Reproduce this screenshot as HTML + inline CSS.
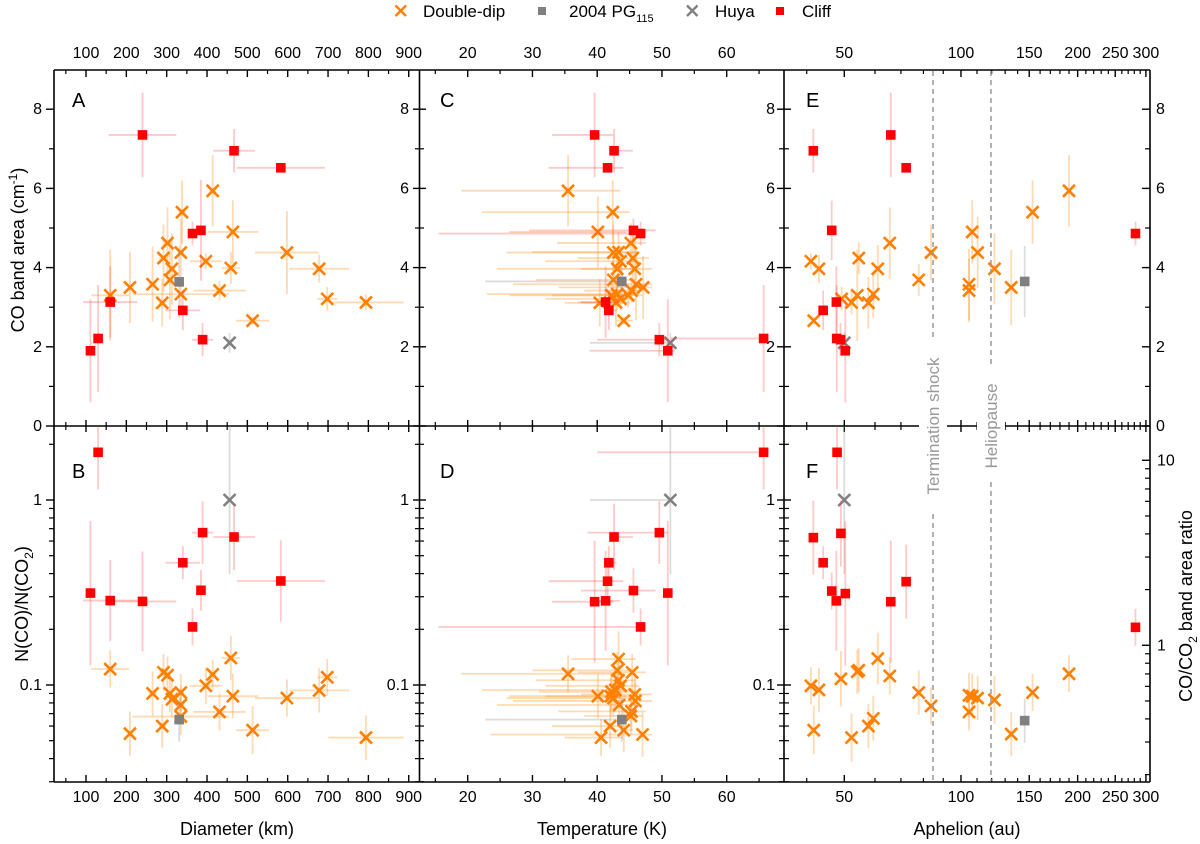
<!DOCTYPE html>
<html><head><meta charset="utf-8">
<style>
html,body{margin:0;padding:0;background:#fff;}
svg{display:block;font-family:"Liberation Sans",Arial,sans-serif;}
</style></head>
<body>
<svg id="chart" width="1200" height="844" viewBox="0 0 1200 844" xmlns="http://www.w3.org/2000/svg">
<defs>
<clipPath id="cA"><rect x="54" y="70" width="366" height="356"/></clipPath>
<clipPath id="cB"><rect x="54" y="426" width="366" height="356"/></clipPath>
<clipPath id="cC"><rect x="419" y="70" width="365" height="356"/></clipPath>
<clipPath id="cD"><rect x="419" y="426" width="365" height="356"/></clipPath>
<clipPath id="cE"><rect x="784" y="70" width="366" height="356"/></clipPath>
<clipPath id="cF"><rect x="784" y="426" width="366" height="356"/></clipPath>
</defs>
<g id="legend">
  <g>
    <path d="M395.5,5.5L406,16M406,5.5L395.5,16" stroke="#ff7f00" stroke-width="2.4"/>
    <text x="423" y="17" font-size="17">Double-dip</text>
  </g>
  <g>
    <rect x="538" y="7" width="8" height="8" fill="#808080"/>
    <text x="569" y="17" font-size="17">2004 PG<tspan font-size="11" dy="5">115</tspan></text>
  </g>
  <g>
    <path d="M687,5.5L697.5,16M697.5,5.5L687,16" stroke="#808080" stroke-width="2.4"/>
    <text x="715" y="17" font-size="17">Huya</text>
  </g>
  <g>
    <rect x="776" y="7" width="8" height="8" fill="#ff0000"/>
    <text x="802" y="17" font-size="17">Cliff</text>
  </g>
</g>
<g id="axes"></g>
<g id="marks"></g>
<g id="overlay"></g>
</svg>
<script>
// ---------- Panel A: CO band area vs diameter ----------
const aDoubleDipDiameter = [160,209,265,292,302,289,308,313,335,338,335,397,414,431,459,464,513,598,678,698,794];
const aDoubleDipCO = [3.30,3.50,3.58,4.24,4.62,3.11,3.69,3.97,4.38,5.40,3.33,4.16,5.94,3.42,3.99,4.90,2.66,4.38,3.97,3.21,3.12];
const aDoubleDipDiameterErr = [47,6,10,10,8,8,8,8,8,8,120,40,8,65,23,63,41,79,74,25,93];
const aDoubleDipCOErr = [1.15,0.9,0.95,0.85,0.9,0.6,1.0,0.9,0.85,0.8,0.4,0.2,0.9,0.25,0.4,0.8,0.1,1.05,0.35,0.3,0.2];
const aCliffDiameter = [111,130,160,240,364,385,340,389,467,583];
const aCliffCO = [1.90,2.21,3.13,7.35,4.86,4.94,2.92,2.18,6.95,6.52];
const aCliffDiameterErr = [6,8,67,84,8,8,43,26,52,109];
const aCliffCOErr = [1.3,1.35,0.9,1.07,0.3,1.27,0.5,0.42,0.55,0.1];
const aPGDiameter = [331]; const aPGCO = [3.64]; const aPGCOErr = [0.9];
const aHuyaDiameter = [456]; const aHuyaCO = [2.1]; const aHuyaCOErr = [0.25];

// ---------- Panel B: N(CO)/N(CO2) vs diameter ----------
const bDoubleDipDiameter = [160,209,265,292,302,289,308,313,335,335,335,397,414,431,459,464,513,598,678,698,794];
const bDoubleDipRatio = [0.122,0.0546,0.090,0.117,0.113,0.060,0.090,0.0837,0.091,0.078,0.0675,0.099,0.114,0.0715,0.140,0.087,0.057,0.085,0.0935,0.110,0.052];
const bDoubleDipDiameterErr = [47,6,10,10,8,8,8,8,8,8,120,40,8,65,23,63,41,79,74,25,93];
const bDoubleDipRatioLogErr = [0.1,0.12,0.12,0.1,0.1,0.12,0.1,0.1,0.1,0.1,0.1,0.1,0.08,0.1,0.12,0.12,0.13,0.1,0.12,0.1,0.12];
const bCliffDiameter = [130,111,160,240,340,385,364,389,467,583];
const bCliffRatio = [1.81,0.314,0.286,0.283,0.458,0.325,0.206,0.666,0.631,0.365];
const bCliffDiameterErr = [8,6,67,84,43,8,8,26,52,109];
const bCliffRatioLogErr = [0.2,0.39,0.22,0.27,0.09,0.11,0.1,0.17,0.18,0.22];
const bPGDiameter = [331]; const bPGRatio = [0.065]; const bPGRatioLogErr = [0.12];
const bHuyaDiameter = [456]; const bHuyaRatio = [1.0]; const bHuyaRatioLogErr = [0.4];

// ---------- Panel C: CO band area vs temperature ----------
const cDoubleDipTemp = [35.5,42.4,40.1,45.2,42.5,43.3,45.5,43.6,43.1,45.8,42.5,46.0,47.1,43.1,45.3,44.8,43.6,40.4,42.9,44.1,42.2];
const cDoubleDipCO = [5.94,5.40,4.90,4.62,4.38,4.39,4.24,4.16,3.97,3.97,3.69,3.58,3.50,3.33,3.42,3.30,3.21,3.11,3.12,2.66,3.30];
const cDoubleDipTempLow = [19.0,22.2,26.4,33.8,26.0,30.0,37.0,32.0,24.5,37.5,30.5,27.0,34.0,23.0,38.0,26.5,32.0,35.0,37.0,43.0,33.0];
const cDoubleDipTempHigh = [43.6,45.0,44.5,47.5,46.0,46.5,48.0,46.5,46.0,48.5,46.0,48.5,48.5,46.5,47.5,47.0,46.0,44.0,45.0,45.5,45.0];
const cDoubleDipCOErr = [0.9,0.8,0.9,0.5,0.7,0.5,0.6,0.4,0.5,0.7,0.5,0.9,0.8,0.4,0.3,0.3,0.3,0.6,0.6,0.1,0.3];
const cCliffTemp = [39.6,42.6,41.6,45.6,46.7,41.3,41.8,49.6,50.9,65.7];
const cCliffCO = [7.35,6.95,6.52,4.94,4.86,3.13,2.92,2.18,1.90,2.21];
const cCliffTempLow = [33.0,42.0,32.5,29.5,15.5,37.5,41.0,40.0,38.8,51.3];
const cCliffTempHigh = [42.5,45.5,44.0,49.0,47.5,43.5,43.0,51.0,52.0,66.0];
const cCliffCOErr = [1.07,0.55,0.1,0.3,0.3,0.9,0.5,0.42,1.3,1.35];
const cPGTemp = [43.8]; const cPGCO = [3.65]; const cPGTempLow = [22.7]; const cPGTempHigh = [44.5]; const cPGCOErr = [0.4];
const cHuyaTemp = [51.3]; const cHuyaCO = [2.1]; const cHuyaTempLow = [38.9]; const cHuyaTempHigh = [51.5]; const cHuyaCOErr = [0.25];

// ---------- Panel D: N(CO)/N(CO2) vs temperature ----------
const dDoubleDipTemp = [35.5,43.3,43.1,45.4,43.6,42.2,40.1,45.8,42.5,45.9,43.4,45.3,45.2,42.0,44.1,40.6,47.0,42.8,43.3,42.1];
const dDoubleDipRatio = [0.115,0.138,0.12,0.117,0.099,0.092,0.087,0.089,0.085,0.082,0.078,0.072,0.068,0.060,0.057,0.052,0.054,0.094,0.106,0.087];
const dDoubleDipTempLow = [19.0,36.0,30.0,37.0,32.0,31.0,26.4,37.5,26.0,27.0,24.5,34.0,38.0,33.0,43.0,35.0,23.5,22.2,30.5,32.0];
const dDoubleDipTempHigh = [43.6,46.0,46.0,47.5,46.5,46.0,44.5,48.5,46.0,48.5,46.0,47.5,47.0,45.0,45.5,44.0,48.5,45.0,46.0,45.0];
const dDoubleDipRatioLogErr = [0.1,0.15,0.1,0.1,0.08,0.1,0.12,0.1,0.1,0.1,0.1,0.1,0.1,0.12,0.12,0.1,0.12,0.1,0.1,0.1];
const dCliffTemp = [65.7,49.6,42.6,41.8,41.6,45.6,50.9,39.6,41.3,46.7];
const dCliffRatio = [1.81,0.666,0.631,0.458,0.364,0.324,0.314,0.282,0.285,0.206];
const dCliffTempLow = [40.0,38.5,42.0,41.0,32.5,37.5,50.5,33.0,39.5,15.5];
const dCliffTempHigh = [66.0,51.0,45.5,43.0,44.0,49.0,51.5,42.5,43.5,47.5];
const dCliffRatioLogErr = [0.2,0.17,0.18,0.09,0.12,0.12,0.39,0.33,0.27,0.1];
const dPGTemp = [43.8]; const dPGRatio = [0.065]; const dPGTempLow = [22.7]; const dPGTempHigh = [44.5]; const dPGRatioLogErr = [0.12];
const dHuyaTemp = [51.3]; const dHuyaRatio = [1.0]; const dHuyaTempLow = [38.9]; const dHuyaTempHigh = [51.5]; const dHuyaRatioLogErr = [0.4];

// ---------- Panel E: CO band area vs aphelion ----------
const eDoubleDipAphelion = [41.0,43.0,41.7,49.2,52.2,54.0,54.5,57.7,59.4,61.0,65.5,77.8,83.7,104.9,104.9,106.9,110.4,122,134.8,153,190];
const eDoubleDipCO = [4.16,3.97,2.66,3.21,3.12,3.30,4.24,3.11,3.33,3.97,4.62,3.69,4.38,3.58,3.42,4.90,4.38,3.97,3.50,5.40,5.94];
const eDoubleDipCOErr = [0.2,0.35,0.1,0.3,0.3,1.15,0.4,0.65,0.6,0.6,0.9,0.4,0.7,0.9,0.8,0.8,0.9,0.9,0.95,0.8,0.9];
const eCliffAphelion = [41.6,65.9,72.2,46.4,44.1,47.7,47.8,48.9,50.3,282];
const eCliffCO = [6.95,7.35,6.52,4.94,2.92,3.13,2.21,2.18,1.90,4.86];
const eCliffCOErr = [0.55,1.07,0.1,0.75,0.5,0.9,1.35,0.42,1.3,0.3];
const ePGAphelion = [146]; const ePGCO = [3.65]; const ePGCOErr = [0.9];
const eHuyaAphelion = [50]; const eHuyaCO = [2.1]; const eHuyaCOErr = [0.25];

// ---------- Panel F: N(CO)/N(CO2) vs aphelion ----------
const fDoubleDipAphelion = [41.0,43.0,41.7,49.0,52.2,54.0,54.5,57.7,59.4,61.0,65.5,77.8,83.7,104.9,104.9,106.9,110.4,122,134.8,153,190];
const fDoubleDipRatio = [0.099,0.094,0.057,0.108,0.052,0.118,0.12,0.06,0.066,0.139,0.112,0.091,0.077,0.088,0.0715,0.087,0.085,0.083,0.0543,0.091,0.115];
const fDoubleDipRatioLogErr = [0.1,0.12,0.13,0.15,0.13,0.12,0.12,0.12,0.12,0.14,0.1,0.12,0.1,0.12,0.1,0.12,0.12,0.13,0.12,0.1,0.1];
const fCliffAphelion = [47.9,41.6,49.0,44.1,46.4,47.7,50.3,65.9,72.2,282];
const fCliffRatio = [1.81,0.626,0.66,0.458,0.322,0.285,0.312,0.282,0.362,0.205];
const fCliffRatioLogErr = [0.2,0.2,0.18,0.09,0.1,0.27,0.39,0.33,0.2,0.1];
const fPGAphelion = [146]; const fPGRatio = [0.0642]; const fPGRatioLogErr = [0.12];
const fHuyaAphelion = [50]; const fHuyaRatio = [1.0]; const fHuyaRatioLogErr = [0.4];

// ---------- tick definitions ----------
const diameterTicks = [100,200,300,400,500,600,700,800,900];
const temperatureTicks = [20,30,40,50,60];
const aphelionTicks = [50,100,150,200,250,300];
const coTicks = [0,2,4,6,8];
const ratioTicks = [0.1,1];
const bandRatioTicks = [1,10];

const NS = "http://www.w3.org/2000/svg";
const axesG = document.getElementById('axes');
const marksG = document.getElementById('marks');
const overlayG = document.getElementById('overlay');
const FS = 16;

const xD = d => 86 + (d - 100) * 0.4034;
const xT = t => 467.7 + (t - 20) * 6.475;
const xQ = q => 844.3 + 387.6 * Math.log10(q / 50);
const yCO = v => 426 - 39.6 * v;
const yN = n => 500 - 185 * Math.log10(n);
const yR = r => yN(r / 6.1);

function mk(tag, attrs, parent) {
  const e = document.createElementNS(NS, tag);
  for (const k in attrs) e.setAttribute(k, attrs[k]);
  parent.appendChild(e);
  return e;
}
function line(p, x1, y1, x2, y2, stroke, w) {
  return mk('line', {x1:x1, y1:y1, x2:x2, y2:y2, stroke:stroke, 'stroke-width':w}, p);
}
function txt(p, x, y, s, size, anchor) {
  const t = mk('text', {x:x, y:y, 'font-size':size, 'text-anchor':anchor || 'middle', fill:'#000'}, p);
  t.textContent = s;
  return t;
}

const COLORS = {
  dd: {mark:'#ff7f00', err:'rgba(255,150,40,0.35)'},
  cliff: {mark:'#ff0000', err:'rgba(255,60,60,0.28)'},
  pg: {mark:'#808080', err:'rgba(140,140,140,0.3)'},
  huya: {mark:'#808080', err:'rgba(140,140,140,0.3)'}
};

function drawMarker(g, kind, x, y) {
  if (kind === 'dd' || kind === 'huya') {
    return mk('path', {d:`M${x-6},${y-6}L${x+6},${y+6}M${x+6},${y-6}L${x-6},${y+6}`, stroke:COLORS[kind].mark, 'stroke-width':2.6, fill:'none'}, g);
  }
  return mk('rect', {x:x-4.8, y:y-4.8, width:9.6, height:9.6, fill:COLORS[kind].mark}, g);
}

function drawSeries(panelG, kind, name, o) {
  const g = mk('g', {}, panelG);
  
  
  const errG = mk('g', {}, g);
  for (let i = 0; i < o.xs.length; i++) {
    const x = o.xf(o.xs[i]), y = o.yf(o.ys[i]);
    if (o.xlo) line(errG, o.xf(o.xlo[i]), y, o.xf(o.xhi[i]), y, COLORS[kind].err, 1.8);
    if (o.yerr) line(errG, x, o.yf(o.ys[i] - o.yerr[i]), x, o.yf(o.ys[i] + o.yerr[i]), COLORS[kind].err, 1.8);
    if (o.ylog) {
      const f = Math.pow(10, o.ylog[i]);
      line(errG, x, o.yf(o.ys[i] / f), x, o.yf(o.ys[i] * f), COLORS[kind].err, 1.8);
    }
  }
  for (let i = 0; i < o.xs.length; i++) {
    const m = drawMarker(g, kind, o.xf(o.xs[i]), o.yf(o.ys[i]));
    
    
  }
}
const sym = (v, e) => [v.map((x,i)=>x-e[i]), v.map((x,i)=>x+e[i])];

function panel(id, clip) {
  const g = mk('g', {'clip-path':'url(#' + clip + ')'}, marksG);
  
  
  return g;
}

{
  const g = panel('panel-a-co-vs-diameter', 'cA');
  let [lo, hi] = sym(aDoubleDipDiameter, aDoubleDipDiameterErr);
  drawSeries(g, 'dd', 'double-dip-series-a', {xs:aDoubleDipDiameter, ys:aDoubleDipCO, xf:xD, yf:yCO, xlo:lo, xhi:hi, yerr:aDoubleDipCOErr});
  drawSeries(g, 'pg', 'pg115-point-a', {xs:aPGDiameter, ys:aPGCO, xf:xD, yf:yCO, yerr:aPGCOErr});
  drawSeries(g, 'huya', 'huya-point-a', {xs:aHuyaDiameter, ys:aHuyaCO, xf:xD, yf:yCO, yerr:aHuyaCOErr});
  [lo, hi] = sym(aCliffDiameter, aCliffDiameterErr);
  drawSeries(g, 'cliff', 'cliff-series-a', {xs:aCliffDiameter, ys:aCliffCO, xf:xD, yf:yCO, xlo:lo, xhi:hi, yerr:aCliffCOErr});
}
{
  const g = panel('panel-b-ratio-vs-diameter', 'cB');
  let [lo, hi] = sym(bDoubleDipDiameter, bDoubleDipDiameterErr);
  drawSeries(g, 'dd', 'double-dip-series-b', {xs:bDoubleDipDiameter, ys:bDoubleDipRatio, xf:xD, yf:yN, xlo:lo, xhi:hi, ylog:bDoubleDipRatioLogErr});
  drawSeries(g, 'pg', 'pg115-point-b', {xs:bPGDiameter, ys:bPGRatio, xf:xD, yf:yN, ylog:bPGRatioLogErr});
  drawSeries(g, 'huya', 'huya-point-b', {xs:bHuyaDiameter, ys:bHuyaRatio, xf:xD, yf:yN, ylog:bHuyaRatioLogErr});
  [lo, hi] = sym(bCliffDiameter, bCliffDiameterErr);
  drawSeries(g, 'cliff', 'cliff-series-b', {xs:bCliffDiameter, ys:bCliffRatio, xf:xD, yf:yN, xlo:lo, xhi:hi, ylog:bCliffRatioLogErr});
}
{
  const g = panel('panel-c-co-vs-temperature', 'cC');
  drawSeries(g, 'dd', 'double-dip-series-c', {xs:cDoubleDipTemp, ys:cDoubleDipCO, xf:xT, yf:yCO, xlo:cDoubleDipTempLow, xhi:cDoubleDipTempHigh, yerr:cDoubleDipCOErr});
  drawSeries(g, 'pg', 'pg115-point-c', {xs:cPGTemp, ys:cPGCO, xf:xT, yf:yCO, xlo:cPGTempLow, xhi:cPGTempHigh, yerr:cPGCOErr});
  drawSeries(g, 'huya', 'huya-point-c', {xs:cHuyaTemp, ys:cHuyaCO, xf:xT, yf:yCO, xlo:cHuyaTempLow, xhi:cHuyaTempHigh, yerr:cHuyaCOErr});
  drawSeries(g, 'cliff', 'cliff-series-c', {xs:cCliffTemp, ys:cCliffCO, xf:xT, yf:yCO, xlo:cCliffTempLow, xhi:cCliffTempHigh, yerr:cCliffCOErr});
}
{
  const g = panel('panel-d-ratio-vs-temperature', 'cD');
  drawSeries(g, 'dd', 'double-dip-series-d', {xs:dDoubleDipTemp, ys:dDoubleDipRatio, xf:xT, yf:yN, xlo:dDoubleDipTempLow, xhi:dDoubleDipTempHigh, ylog:dDoubleDipRatioLogErr});
  drawSeries(g, 'pg', 'pg115-point-d', {xs:dPGTemp, ys:dPGRatio, xf:xT, yf:yN, xlo:dPGTempLow, xhi:dPGTempHigh, ylog:dPGRatioLogErr});
  drawSeries(g, 'huya', 'huya-point-d', {xs:dHuyaTemp, ys:dHuyaRatio, xf:xT, yf:yN, xlo:dHuyaTempLow, xhi:dHuyaTempHigh, ylog:dHuyaRatioLogErr});
  drawSeries(g, 'cliff', 'cliff-series-d', {xs:dCliffTemp, ys:dCliffRatio, xf:xT, yf:yN, xlo:dCliffTempLow, xhi:dCliffTempHigh, ylog:dCliffRatioLogErr});
}
{
  const g = panel('panel-e-co-vs-aphelion', 'cE');
  drawSeries(g, 'dd', 'double-dip-series-e', {xs:eDoubleDipAphelion, ys:eDoubleDipCO, xf:xQ, yf:yCO, yerr:eDoubleDipCOErr});
  drawSeries(g, 'pg', 'pg115-point-e', {xs:ePGAphelion, ys:ePGCO, xf:xQ, yf:yCO, yerr:ePGCOErr});
  drawSeries(g, 'huya', 'huya-point-e', {xs:eHuyaAphelion, ys:eHuyaCO, xf:xQ, yf:yCO, yerr:eHuyaCOErr});
  drawSeries(g, 'cliff', 'cliff-series-e', {xs:eCliffAphelion, ys:eCliffCO, xf:xQ, yf:yCO, yerr:eCliffCOErr});
}
{
  const g = panel('panel-f-ratio-vs-aphelion', 'cF');
  drawSeries(g, 'dd', 'double-dip-series-f', {xs:fDoubleDipAphelion, ys:fDoubleDipRatio, xf:xQ, yf:yN, ylog:fDoubleDipRatioLogErr});
  drawSeries(g, 'pg', 'pg115-point-f', {xs:fPGAphelion, ys:fPGRatio, xf:xQ, yf:yN, ylog:fPGRatioLogErr});
  drawSeries(g, 'huya', 'huya-point-f', {xs:fHuyaAphelion, ys:fHuyaRatio, xf:xQ, yf:yN, ylog:fHuyaRatioLogErr});
  drawSeries(g, 'cliff', 'cliff-series-f', {xs:fCliffAphelion, ys:fCliffRatio, xf:xQ, yf:yN, ylog:fCliffRatioLogErr});
}

const TOP = 70, MID = 426, BOT = 782;
{
  const fg = mk('g', {}, axesG);
  
  
  line(fg, 54, TOP, 1150, TOP, '#000', 1.6);
  line(fg, 54, MID, 1150, MID, '#000', 1.6);
  line(fg, 54, BOT, 1150, BOT, '#000', 1.6);
  [54, 419.5, 784, 1150].forEach(x => line(fg, x, TOP, x, BOT, '#000', 1.6));
}
function xTicks(name, xf, majors, minors, x0, x1) {
  const g = mk('g', {}, axesG);
  
  
  const inR = x => x > x0 + 1 && x < x1 - 1;
  majors.forEach(v => { const x = xf(v); if (!inR(x)) return;
    line(g, x, TOP, x, TOP + 7, '#000', 1.4); line(g, x, MID - 6, x, MID + 6, '#000', 1.4); line(g, x, BOT - 7, x, BOT, '#000', 1.4); });
  minors.forEach(v => { const x = xf(v); if (!inR(x)) return;
    line(g, x, TOP, x, TOP + 4, '#000', 1.2); line(g, x, MID - 4, x, MID + 4, '#000', 1.2); line(g, x, BOT - 4, x, BOT, '#000', 1.2); });
}
function xLabels(name, xf, vals) {
  const g = mk('g', {}, axesG);
  
  
  vals.forEach(v => { txt(g, xf(v), 58, String(v), FS); txt(g, xf(v), 802, String(v), FS); });
}
xTicks('diameter-ticks', xD, diameterTicks, [50,150,250,350,450,550,650,750,850], 54, 420);
xLabels('diameter-tick-labels', xD, diameterTicks);
xTicks('temperature-ticks', xT, [10,20,30,40,50,60], [15,25,35,45,55,65], 419, 784);
xLabels('temperature-tick-labels', xT, temperatureTicks);
{
  const mins = [];
  for (let q = 40; q <= 300; q += 10) if ([50,100,150,200,250,300].indexOf(q) < 0) mins.push(q);
  xTicks('aphelion-ticks', xQ, [50,100,150,200,250,300], mins, 784, 1150);
  xLabels('aphelion-tick-labels', xQ, aphelionTicks);
}
function yTicksPanel(name, yf, majors, minors, y0, y1, rightTicks) {
  const g = mk('g', {}, axesG);
  
  
  const ok = y => y >= y0 - 0.5 && y <= y1 + 0.5;
  majors.forEach(v => { const y = yf(v); if (!ok(y)) return;
    line(g, 46, y, 54, y, '#000', 1.4);
    line(g, 413, y, 426, y, '#000', 1.4);
    line(g, 777, y, 791, y, '#000', 1.4);
    if (rightTicks) line(g, 1142, y, 1150, y, '#000', 1.4); });
  minors.forEach(v => { const y = yf(v); if (!ok(y)) return;
    line(g, 49, y, 54, y, '#000', 1.2);
    line(g, 415, y, 424, y, '#000', 1.2);
    line(g, 779, y, 789, y, '#000', 1.2);
    if (rightTicks) line(g, 1145, y, 1150, y, '#000', 1.2); });
  return g;
}
{
  const g = yTicksPanel('co-band-area-ticks', yCO, coTicks, [1,3,5,7], TOP, MID, true);
  coTicks.forEach(v => {
    const y = yCO(v) + 5;
    if (v > 0) txt(g, 42, y, String(v), FS, 'end');
    if (v > 0) txt(g, 409, y, String(v), FS, 'end');
    if (v > 0) txt(g, 775, y, String(v), FS, 'end');
    txt(g, 1156, y, String(v), FS, 'start');
  });
  txt(g, 42, MID + 5, '0', FS, 'end');
}
{
  const mins = [0.03,0.04,0.05,0.06,0.07,0.08,0.09,0.2,0.3,0.4,0.5,0.6,0.7,0.8,0.9,2];
  const g = yTicksPanel('ratio-ticks', yN, ratioTicks, mins, MID, BOT, false);
  ratioTicks.forEach(v => {
    const y = yN(v) + 5;
    txt(g, 42, y, String(v), FS, 'end');
    txt(g, 409, y, String(v), FS, 'end');
    txt(g, 775, y, String(v), FS, 'end');
  });
  const rg = mk('g', {}, axesG);
  
  
  bandRatioTicks.forEach(v => txt(rg, 1157, yR(v) + 5, String(v), FS, 'start'));
  [0.2,0.3,0.4,0.5,0.6,0.7,0.8,0.9,2,3,4,5,6,7,8,9].forEach(v => { const y = yR(v); if (y > MID && y < BOT) line(rg, 1145, y, 1150, y, '#000', 1.2); });
  bandRatioTicks.forEach(v => line(rg, 1142, yR(v), 1150, yR(v), '#000', 1.4));
}

[['A',72,107],['B',72,478],['C',440,107],['D',440,478],['E',806,107],['F',806,478]].forEach(([s,x,y]) => {
  const t = txt(axesG, x, y, s, 20, 'start');
  
  
});

{
  let t = txt(axesG, 237, 835, 'Diameter (km)', 18);
   
  t = txt(axesG, 602, 835, 'Temperature (K)', 18);
   
  t = txt(axesG, 967, 835, 'Aphelion (au)', 18);
   

  t = mk('text', {x:0, y:0, 'font-size':18, 'text-anchor':'middle', transform:'translate(24,250) rotate(-90)'}, axesG);
  t.innerHTML = 'CO band area (cm<tspan font-size="12" dy="-7">-1</tspan><tspan dy="7">)</tspan>';
   

  t = mk('text', {x:0, y:0, 'font-size':18, 'text-anchor':'middle', transform:'translate(28,604) rotate(-90)'}, axesG);
  t.innerHTML = 'N(CO)/N(CO<tspan font-size="12" dy="5">2</tspan><tspan dy="-5">)</tspan>';
   

  t = mk('text', {x:0, y:0, 'font-size':18, 'text-anchor':'middle', transform:'translate(1192,606) rotate(-90)'}, axesG);
  t.innerHTML = 'CO/CO<tspan font-size="12" dy="5">2</tspan><tspan dy="-5"> band area ratio</tspan>';
   
}

function boundary(name, q, label, gapTop, gapBot) {
  const g = mk('g', {}, overlayG);
  
  
  const x = xQ(q);
  line(g, x, TOP + 1, x, gapTop, '#999', 1.5).setAttribute('stroke-dasharray', '5,4');
  line(g, x, gapBot, x, BOT - 1, '#999', 1.5).setAttribute('stroke-dasharray', '5,4');
  mk('rect', {x:x - 14, y:gapTop + 2, width:28, height:gapBot - gapTop - 4, fill:'#fff'}, g);
  const t = mk('text', {x:0, y:0, 'font-size':17, 'text-anchor':'middle', fill:'#999', transform:`translate(${x + 6},${MID}) rotate(-90)`}, g);
  t.textContent = label;
}
boundary('termination-shock-line', 84.7, 'Termination shock', 338, 514);
boundary('heliopause-line', 119.5, 'Heliopause', 368, 482);
</script>
</body></html>
